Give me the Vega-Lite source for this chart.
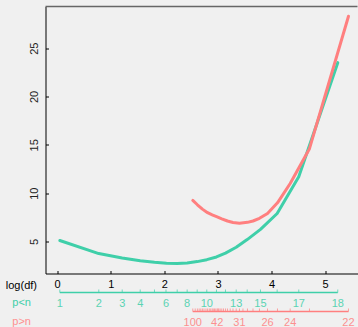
{
  "$schema": "https://vega.github.io/schema/vega-lite/v6.json",
  "width": 312,
  "height": 267,
  "padding": {"left": 4.5, "top": 5.5, "right": 0, "bottom": 0},
  "background": "#f0f0f0",
  "config": {
    "view": {"stroke": null},
    "font": "Liberation Sans",
    "axis": {"labelFont": "Liberation Sans", "titleFont": "Liberation Sans", "grid": false},
    "axisX": {
      "values": [0, 1, 2, 3, 4, 5], "domainColor": "#000000", "tickColor": "#000000",
      "tickSize": -3, "labelPadding": 8, "labelFontSize": 11, "labelColor": "#000000",
      "labelFlush": false,
      "titleX": -9, "titleY": 15, "titleAlign": "right",
      "titleBaseline": "alphabetic", "titleFontWeight": "normal", "titleFontSize": 11, "titleColor": "#000000"
    }
  },
  "datasets": {
    "curve": [
      {"series": "p<n", "L": 0.049, "err": 5.1},
      {"series": "p<n", "L": 0.776, "err": 3.75},
      {"series": "p<n", "L": 1.213, "err": 3.3},
      {"series": "p<n", "L": 1.549, "err": 3.0},
      {"series": "p<n", "L": 1.815, "err": 2.85},
      {"series": "p<n", "L": 2.039, "err": 2.76},
      {"series": "p<n", "L": 2.239, "err": 2.73},
      {"series": "p<n", "L": 2.425, "err": 2.78},
      {"series": "p<n", "L": 2.612, "err": 2.92},
      {"series": "p<n", "L": 2.791, "err": 3.12},
      {"series": "p<n", "L": 2.972, "err": 3.4},
      {"series": "p<n", "L": 3.14, "err": 3.8},
      {"series": "p<n", "L": 3.34, "err": 4.4},
      {"series": "p<n", "L": 3.545, "err": 5.2},
      {"series": "p<n", "L": 3.793, "err": 6.25},
      {"series": "p<n", "L": 4.104, "err": 7.9},
      {"series": "p<n", "L": 4.507, "err": 11.7},
      {"series": "p<n", "L": 5.235, "err": 23.5},
      {"series": "p>n", "L": 2.53, "err": 9.25},
      {"series": "p>n", "L": 2.616, "err": 8.8},
      {"series": "p>n", "L": 2.709, "err": 8.35},
      {"series": "p>n", "L": 2.806, "err": 7.98},
      {"series": "p>n", "L": 2.892, "err": 7.75},
      {"series": "p>n", "L": 2.985, "err": 7.55},
      {"series": "p>n", "L": 3.071, "err": 7.35},
      {"series": "p>n", "L": 3.177, "err": 7.12},
      {"series": "p>n", "L": 3.28, "err": 6.97},
      {"series": "p>n", "L": 3.401, "err": 6.9},
      {"series": "p>n", "L": 3.55, "err": 6.98},
      {"series": "p>n", "L": 3.653, "err": 7.12},
      {"series": "p>n", "L": 3.774, "err": 7.4},
      {"series": "p>n", "L": 3.924, "err": 7.9},
      {"series": "p>n", "L": 4.11, "err": 9.0},
      {"series": "p>n", "L": 4.347, "err": 11.0},
      {"series": "p>n", "L": 4.707, "err": 14.6},
      {"series": "p>n", "L": 5.435, "err": 28.3}
    ],
    "scalebar": [
      {"series": "p<n", "p": 1, "L": 0.049, "label": true},
      {"series": "p<n", "p": 2, "L": 0.776, "label": true},
      {"series": "p<n", "p": 3, "L": 1.213, "label": true},
      {"series": "p<n", "p": 4, "L": 1.549, "label": true},
      {"series": "p<n", "p": 5, "L": 1.815, "label": false},
      {"series": "p<n", "p": 6, "L": 2.03, "label": true},
      {"series": "p<n", "p": 7, "L": 2.239, "label": false},
      {"series": "p<n", "p": 8, "L": 2.425, "label": true},
      {"series": "p<n", "p": 9, "L": 2.612, "label": false},
      {"series": "p<n", "p": 10, "L": 2.791, "label": true},
      {"series": "p<n", "p": 11, "L": 2.972, "label": false},
      {"series": "p<n", "p": 12, "L": 3.14, "label": false},
      {"series": "p<n", "p": 13, "L": 3.34, "label": true},
      {"series": "p<n", "p": 14, "L": 3.545, "label": false},
      {"series": "p<n", "p": 15, "L": 3.793, "label": true},
      {"series": "p<n", "p": 16, "L": 4.104, "label": false},
      {"series": "p<n", "p": 17, "L": 4.507, "label": true},
      {"series": "p<n", "p": 18, "L": 5.235, "label": true},
      {"series": "p>n", "p": 22, "L": 5.435, "label": true},
      {"series": "p>n", "p": 23, "L": 4.707, "label": false},
      {"series": "p>n", "p": 24, "L": 4.347, "label": true},
      {"series": "p>n", "p": 25, "L": 4.11, "label": false},
      {"series": "p>n", "p": 26, "L": 3.924, "label": true},
      {"series": "p>n", "p": 27, "L": 3.774, "label": false},
      {"series": "p>n", "p": 28, "L": 3.653, "label": false},
      {"series": "p>n", "p": 29, "L": 3.55, "label": false},
      {"series": "p>n", "p": 30, "L": 3.466, "label": false},
      {"series": "p>n", "p": 31, "L": 3.401, "label": true},
      {"series": "p>n", "p": 32, "L": 3.34, "label": false},
      {"series": "p>n", "p": 33, "L": 3.28, "label": false},
      {"series": "p>n", "p": 34, "L": 3.228, "label": false},
      {"series": "p>n", "p": 35, "L": 3.177, "label": false},
      {"series": "p>n", "p": 36, "L": 3.14, "label": false},
      {"series": "p>n", "p": 37, "L": 3.103, "label": false},
      {"series": "p>n", "p": 38, "L": 3.071, "label": false},
      {"series": "p>n", "p": 39, "L": 3.041, "label": false},
      {"series": "p>n", "p": 40, "L": 3.015, "label": false},
      {"series": "p>n", "p": 41, "L": 3.0, "label": false},
      {"series": "p>n", "p": 42, "L": 2.985, "label": true},
      {"series": "p>n", "p": 44, "L": 2.959, "label": false},
      {"series": "p>n", "p": 46, "L": 2.935, "label": false},
      {"series": "p>n", "p": 48, "L": 2.912, "label": false},
      {"series": "p>n", "p": 50, "L": 2.892, "label": false},
      {"series": "p>n", "p": 53, "L": 2.864, "label": false},
      {"series": "p>n", "p": 56, "L": 2.838, "label": false},
      {"series": "p>n", "p": 60, "L": 2.806, "label": false},
      {"series": "p>n", "p": 65, "L": 2.776, "label": false},
      {"series": "p>n", "p": 70, "L": 2.739, "label": false},
      {"series": "p>n", "p": 75, "L": 2.709, "label": false},
      {"series": "p>n", "p": 80, "L": 2.679, "label": false},
      {"series": "p>n", "p": 85, "L": 2.649, "label": false},
      {"series": "p>n", "p": 90, "L": 2.616, "label": false},
      {"series": "p>n", "p": 95, "L": 2.575, "label": false},
      {"series": "p>n", "p": 100, "L": 2.53, "label": true}
    ]
  },
  "layer": [
    {
      "layer": [
        {
          "data": {"values": [{}]},
          "mark": {"type": "rule", "color": "#666666", "strokeWidth": 1.3},
          "encoding": {
            "y": {"datum": 29.31, "type": "quantitative", "scale": {"domain": [1.69, 29.31], "nice": false, "zero": false}}
          }
        },
        {
          "data": {"name": "curve"},
          "mark": {"type": "line", "strokeWidth": 3, "strokeCap": "round", "strokeJoin": "round"},
          "encoding": {
            "x": {
              "field": "L", "type": "quantitative", "title": "log(df)",
              "scale": {"domain": [-0.218, 5.603], "nice": false, "zero": false}
            },
            "y": {
              "field": "err", "type": "quantitative",
              "scale": {"domain": [1.69, 29.31], "nice": false, "zero": false},
              "axis": {
                "values": [5, 10, 15, 20, 25], "domainColor": "#000000", "tickColor": "#000000",
                "tickSize": -3, "labelPadding": 9, "labelFontSize": 11, "labelColor": "#222222",
                "labelAngle": -90, "labelAlign": "center", "labelBaseline": "bottom", "title": null
              }
            },
            "color": {
              "field": "series", "type": "nominal",
              "scale": {"domain": ["p<n", "p>n"], "range": ["#3fcfa9", "#ff7f7f"]},
              "legend": null
            }
          }
        }
      ]
    },
    {
      "data": {"name": "scalebar"},
      "encoding": {
        "y": {
          "field": "series", "type": "nominal",
          "scale": {"type": "point", "domain": ["p<n", "p>n"], "range": [286, 305], "padding": 0},
          "axis": {
            "orient": "left", "domain": false, "ticks": false, "labelPadding": 15, "labelOffset": 10,
            "labelFontSize": 11, "labelAngle": 0, "labelAlign": "right", "labelBaseline": "middle", "title": null,
            "labelColor": {"condition": {"test": "datum.value === 'p<n'", "value": "#3fcfa9"}, "value": "#ff8f8f"}
          }
        },
        "color": {
          "field": "series", "type": "nominal",
          "scale": {"domain": ["p<n", "p>n"], "range": ["#3fcfa9", "#ff7f7f"]},
          "legend": null
        }
      },
      "layer": [
        {
          "mark": {"type": "rule", "strokeWidth": 1.5},
          "encoding": {
            "x": {"aggregate": "min", "field": "L", "type": "quantitative", "title": "log(df)", "scale": {"domain": [-0.218, 5.603], "nice": false, "zero": false}},
            "x2": {"aggregate": "max", "field": "L"}
          }
        },
        {
          "mark": {"type": "tick", "orient": "vertical", "size": 3, "thickness": 1, "yOffset": -1.5},
          "encoding": {
            "x": {"field": "L", "type": "quantitative", "title": "log(df)", "scale": {"domain": [-0.218, 5.603], "nice": false, "zero": false}}
          }
        },
        {
          "transform": [{"filter": "datum.label"}],
          "mark": {"type": "text", "fontSize": 11, "yOffset": 11, "opacity": 0.85, "baseline": "middle"},
          "encoding": {
            "x": {"field": "L", "type": "quantitative", "title": "log(df)", "scale": {"domain": [-0.218, 5.603], "nice": false, "zero": false}},
            "text": {"field": "p", "type": "quantitative"}
          }
        }
      ]
    }
  ],
  "resolve": {"scale": {"y": "independent"}}
}
